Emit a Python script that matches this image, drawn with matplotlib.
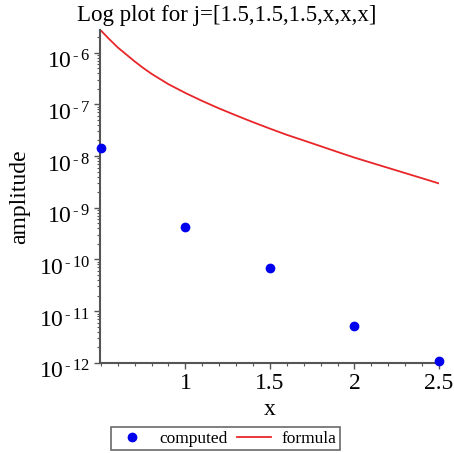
import matplotlib
matplotlib.use("Agg")
import matplotlib.pyplot as plt
from matplotlib.ticker import FixedLocator, LogLocator, NullFormatter, MultipleLocator
from matplotlib.transforms import ScaledTranslation

plt.rcParams['font.family'] = ['Liberation Serif', 'DejaVu Serif']
plt.rcParams['mathtext.fontset'] = 'custom'
plt.rcParams['mathtext.rm'] = 'Liberation Serif'
plt.rcParams['mathtext.it'] = 'Liberation Serif'

# computed amplitudes
x_pts = [0.5, 1.0, 1.5, 2.0, 2.5]
amp_pts = [1.45e-8, 4.2e-10, 6.9e-11, 5.2e-12, 1.1e-12]

# formula curve
x_curve = [0.5, 0.55, 0.6, 0.65, 0.7, 0.75, 0.8, 0.9, 1.0, 1.1, 1.2, 1.3, 1.4, 1.5,
           1.6, 1.7, 1.8, 1.9, 2.0, 2.1, 2.2, 2.3, 2.4, 2.5]
amp_curve = [2.69e-6, 1.82e-6, 1.26e-6, 9.23e-7, 6.76e-7, 5.07e-7, 3.89e-7, 2.45e-7, 1.66e-7,
             1.16e-7, 8.32e-8, 6.10e-8, 4.52e-8, 3.39e-8, 2.57e-8, 2.00e-8, 1.55e-8, 1.20e-8,
             9.33e-9, 7.41e-9, 5.89e-9, 4.68e-9, 3.72e-9, 2.95e-9]

y_ticks = [1e-12, 1e-11, 1e-10, 1e-9, 1e-8, 1e-7, 1e-6]
y_labels = ['10$^{\\,\u2010\\,%d}$' % k for k in [12, 11, 10, 9, 8, 7, 6]]
x_ticks = [1, 1.5, 2, 2.5]
x_labels = ['1', '1.5', '2', '2.5']

fig = plt.figure(figsize=(4.54, 4.53), dpi=100)
ax = fig.add_axes([0.2203, 0.199, 0.7467, 0.735])

ax.plot(x_curve, amp_curve, color='#e8262a', lw=1.3, label='formula')
ax.plot(x_pts, amp_pts, 'o', color='#0000ee', ms=6, label='computed', clip_on=False, zorder=5)

ax.set_yscale('log')
ax.set_xlim(0.495, 2.5)
ax.set_ylim(1e-12, 10 ** -5.56)

ax.yaxis.set_major_locator(FixedLocator(y_ticks))
ax.set_yticklabels(y_labels)
ax.yaxis.set_minor_locator(LogLocator(base=10, subs=range(2, 10)))
ax.yaxis.set_minor_formatter(NullFormatter())
ax.set_xticks(x_ticks)
ax.set_xticklabels(x_labels)
ax.xaxis.set_minor_locator(MultipleLocator(0.1))

for s in ['top', 'right']:
    ax.spines[s].set_visible(False)
for s in ['left', 'bottom']:
    ax.spines[s].set_color('#555555')
    ax.spines[s].set_linewidth(1.5)

ax.tick_params(which='major', direction='out', length=4, width=1, color='#555555', labelsize=17, pad=3)
ax.tick_params(which='minor', direction='out', length=2.5, width=0.8, color='#555555')

# maple puts the "10" below the tick, with the exponent level with it
shift = ScaledTranslation(0, -0.07, fig.dpi_scale_trans)
for lab in ax.get_yticklabels():
    lab.set_transform(lab.get_transform() + shift)

ax.set_xlabel('x', fontsize=17, labelpad=4)
ax.set_ylabel('amplitude', fontsize=17, labelpad=6)
fig.suptitle('Log plot for j=[1.5,1.5,1.5,x,x,x]', fontsize=16.5, x=0.5, y=0.99)

handles, labels = ax.get_legend_handles_labels()
leg = fig.legend(handles[::-1], labels[::-1], loc='center', bbox_to_anchor=(0.497, 0.032), ncol=2,
                 fontsize=12.5, frameon=True, fancybox=False, handlelength=2.0, columnspacing=0.5,
                 handletextpad=0.6, borderpad=0.2, borderaxespad=0)
leg.get_frame().set_edgecolor('#444444')
leg.get_frame().set_linewidth(1.2)

fig.savefig('out.png', dpi=100)
